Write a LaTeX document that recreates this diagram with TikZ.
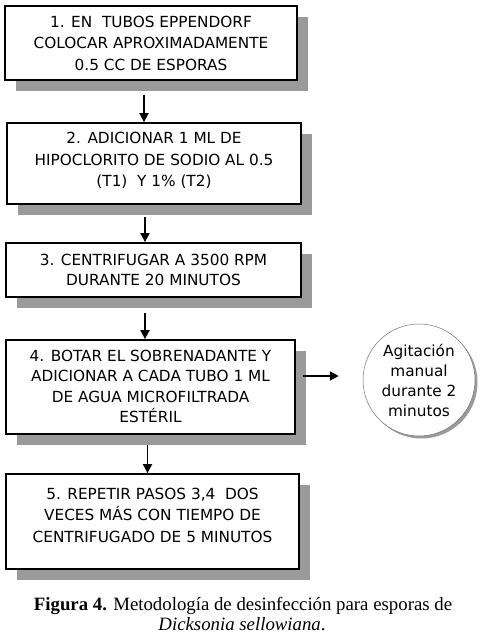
\documentclass[tikz,border=0pt]{standalone}
\usepackage{fontspec}
\setmainfont{DejaVu Sans}
\newfontfamily\capfont{Liberation Serif}
\usetikzlibrary{arrows.meta,shadows}
\definecolor{shadowgray}{HTML}{9A9A9A}
\tikzset{
  stepbox/.style={draw=black, line width=1.8pt, fill=white, rectangle, align=center,
    inner sep=0pt, font=\fontsize{15.3}{21.5}\selectfont,
    general shadow={fill=shadowgray, draw=none, shadow xshift=11pt, shadow yshift=-11pt}},
  roundbox/.style={circle, draw=black!55, line width=0.5pt, fill=white, align=center,
    inner sep=0pt, font=\fontsize{15.3}{20}\selectfont,
    general shadow={fill=shadowgray, draw=none, shadow xshift=2.5pt, shadow yshift=-2.5pt}},
  arr/.style={line width=1.8pt, -{Triangle[width=9pt,length=9pt]}},
  captext/.style={anchor=base, font=\capfont\fontsize{18.8}{20}\selectfont},
}
\begin{document}
\begin{tikzpicture}[x=1pt,y=1pt]
\useasboundingbox (0,0) rectangle (484,-634);
\fill[white] (0,0) rectangle (484,-634);
\node[stepbox, minimum width=292pt, minimum height=74pt] (b1) at (151,-43)
  {1. EN\ \ TUBOS EPPENDORF\\COLOCAR APROXIMADAMENTE\\0.5 CC DE ESPORAS};
\node[stepbox, minimum width=294pt, minimum height=81pt] (b2) at (154,-163.5)
  {2. ADICIONAR 1 ML DE\\HIPOCLORITO DE SODIO AL 0.5\\(T1)\ \ Y 1\% (T2)\\[-14pt]\mbox{}};
\node[stepbox, minimum width=295pt, minimum height=54pt, font=\fontsize{15.3}{20.5}\selectfont] (b3) at (153.5,-270)
  {3. CENTRIFUGAR A 3500 RPM\\DURANTE 20 MINUTOS};
\node[stepbox, minimum width=289pt, minimum height=94pt, font=\fontsize{15.3}{20.5}\selectfont] (b4) at (150.5,-387)
  {\mbox{}\\[-10pt]4. BOTAR EL SOBRENADANTE Y\\ADICIONAR A CADA TUBO 1 ML\\DE AGUA MICROFILTRADA\\ESTÉRIL};
\node[stepbox, minimum width=293pt, minimum height=95pt] (b5) at (152.5,-521.5)
  {5. REPETIR PASOS 3,4\ \ DOS\\VECES MÁS CON TIEMPO DE\\CENTRIFUGADO DE 5 MINUTOS\\[-9pt]\mbox{}};
\node[roundbox, minimum size=112pt] (c) at (419,-380)
  {Agitación\\manual\\durante 2\\minutos};
\draw[arr] ([xshift=-7pt,yshift=-14pt]b1.south) -- ([xshift=-10pt]b2.north);
\draw[arr] ([xshift=-9pt,yshift=-12pt]b2.south) -- ([xshift=-8.5pt]b3.north);
\draw[arr] ([xshift=-8.5pt,yshift=-15pt]b3.south) -- ([xshift=-5.5pt]b4.north);
\draw[arr] ([xshift=-3pt,yshift=-10pt]b4.south) -- ([xshift=-5pt]b5.north);
\draw[arr] ([xshift=7pt,yshift=11pt]b4.east) -- ([xshift=-24pt,yshift=4pt]c.west);
\node[captext] (cap1) at (243,-610)
  {\textbf{Figura 4.} Metodología de desinfección para esporas de};
\node[captext] (cap2) at (242,-630)
  {\textit{Dicksonia sellowiana}.};
\end{tikzpicture}
\end{document}
